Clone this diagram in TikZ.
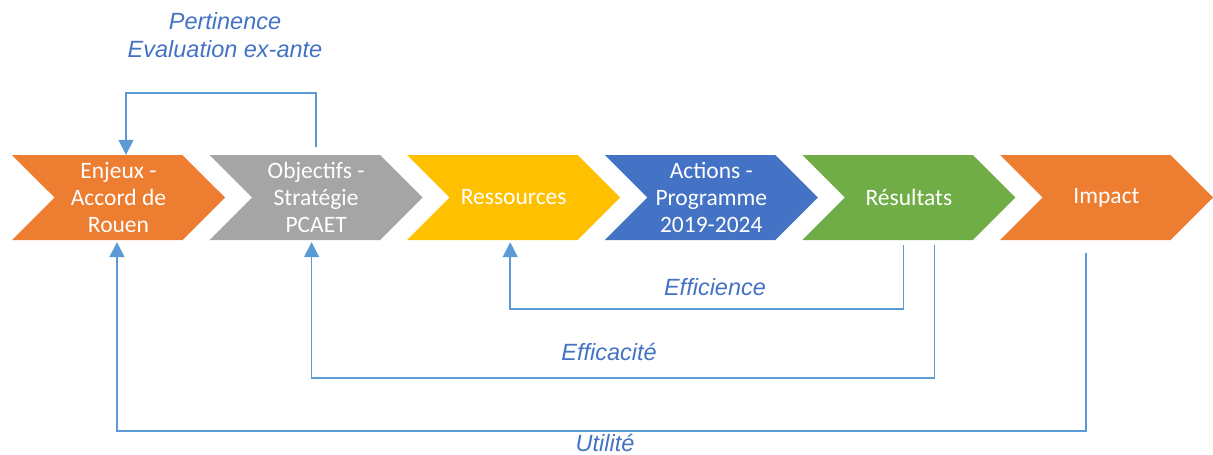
\documentclass[tikz,border=0pt]{standalone}
\usepackage{fontspec}
\setmainfont{Carlito}
\newfontfamily\labelfont{Liberation Sans}
\usetikzlibrary{arrows.meta,shapes.symbols}

\definecolor{enjeuxorange}{HTML}{ED7D31}
\definecolor{objgray}{HTML}{A5A5A5}
\definecolor{resgold}{HTML}{FFC000}
\definecolor{actblue}{HTML}{4472C4}
\definecolor{resgreen}{HTML}{70AD47}
\definecolor{linkblue}{HTML}{5B9BD5}
\definecolor{tagblue}{HTML}{4472C4}

\begin{document}
\begin{tikzpicture}[x=1pt,y=-1pt,
    chevron/.style={signal,signal from=west,signal to=east,signal pointer angle=90,
        minimum width=213pt,minimum height=85pt,inner sep=0pt,
        text=white,align=center,font=\fontsize{23.5}{27}\selectfont},
    backlink/.style={draw=linkblue,line width=1.5pt,
        -{Triangle[width=15pt,length=15pt]}},
    tag/.style={text=tagblue,align=center,
        font=\labelfont\itshape\fontsize{23.5}{28}\selectfont}
]
    \useasboundingbox (0,0) rectangle (1213,455);

    % the six steps, left to right
    \foreach \name/\col/\txt [count=\i from 0] in {
        enjeux/enjeuxorange/{Enjeux -\\Accord de\\Rouen},
        objectifs/objgray/{Objectifs -\\Stratégie\\PCAET},
        ressources/resgold/{Ressources},
        actions/actblue/{Actions -\\Programme\\2019-2024},
        resultats/resgreen/{Résultats},
        impact/enjeuxorange/{Impact}}
        \node[chevron,fill=\col] (\name) at (118.5+197.6*\i,197.5) {\txt};

    \node[tag] (pertinence) at (225,35) {Pertinence\\Evaluation ex-ante};
    \node[tag] (efficience) at (715,287) {Efficience};
    \node[tag] (efficacite) at (609,352) {Efficacité};
    \node[tag] (utilite) at (605,443) {Utilité};

    \draw[backlink] ([yshift=8pt]objectifs.north) -- ++(0,-54) -| ([xshift=7.5pt]enjeux.north);
    \draw[backlink] ([xshift=-5.5pt,yshift=-5pt]resultats.south) -- ++(0,64) -| ([xshift=-3.5pt,yshift=-2pt]ressources.south);
    \draw[backlink] ([xshift=25.5pt,yshift=-5pt]resultats.south) -- ++(0,133) -| ([xshift=-4.5pt,yshift=-2pt]objectifs.south);
    \draw[backlink] ([xshift=-20.5pt,yshift=-13pt]impact.south) -- ++(0,178) -| ([xshift=-1.5pt,yshift=-2pt]enjeux.south);
\end{tikzpicture}
\end{document}
